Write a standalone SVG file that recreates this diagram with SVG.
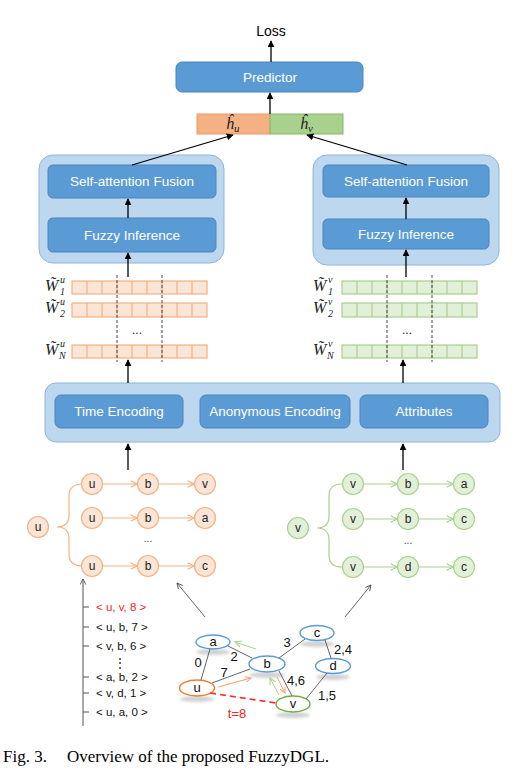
<svg xmlns="http://www.w3.org/2000/svg" width="518" height="774" viewBox="0 0 518 774">
<defs>
<marker id="ah" viewBox="0 0 10 10" refX="9" refY="5" markerWidth="7" markerHeight="7" markerUnits="userSpaceOnUse" orient="auto"><path d="M0,0 L10,5 L0,10 z" fill="#000"/></marker>
<marker id="ahg" viewBox="0 0 10 10" refX="9" refY="5" markerWidth="7" markerHeight="7" markerUnits="userSpaceOnUse" orient="auto"><path d="M1,1 L9,5 L1,9" fill="none" stroke="#555" stroke-width="1.3"/></marker>
<marker id="aho" viewBox="0 0 10 10" refX="9" refY="5" markerWidth="8" markerHeight="8" markerUnits="userSpaceOnUse" orient="auto"><path d="M1,1 L9,5 L1,9" fill="none" stroke="#F4B183" stroke-width="1.4"/></marker>
<marker id="ahgr" viewBox="0 0 10 10" refX="9" refY="5" markerWidth="8" markerHeight="8" markerUnits="userSpaceOnUse" orient="auto"><path d="M1,1 L9,5 L1,9" fill="none" stroke="#A9D18E" stroke-width="1.4"/></marker>
<marker id="ahor" viewBox="0 0 10 10" refX="9" refY="5" markerWidth="7" markerHeight="7" markerUnits="userSpaceOnUse" orient="auto"><path d="M1,1 L9,5 L1,9" fill="none" stroke="#F4A070" stroke-width="1.4"/></marker>
<filter id="sh" x="-50%" y="-50%" width="200%" height="200%"><feGaussianBlur stdDeviation="1.6"/></filter>
</defs>
<style>
text{font-family:"Liberation Sans",Arial,sans-serif}
.outer{fill:#BDD7EE;stroke:#8EB4DE;stroke-width:1}
.box{fill:#5B9BD5;stroke:#4A84BC;stroke-width:1}
.bt{fill:#fff;font-size:13.5px;text-anchor:middle}
.conn{stroke:#000;stroke-width:1.3;fill:none}
.oc{fill:#FBE5D6;stroke:#F4B183;stroke-width:1.2}
.gc{fill:#E2F0D9;stroke:#A9D18E;stroke-width:1.2}
.ol{stroke:#F4B183;stroke-width:1.2;fill:none}
.gl{stroke:#A9D18E;stroke-width:1.2;fill:none}
.nt{font-size:12px;text-anchor:middle;fill:#222}
.dash{stroke:#333;stroke-width:0.9;stroke-dasharray:3,2}
.wl{font-family:"Liberation Serif",serif;font-style:italic;fill:#222}
.ge{stroke:#555;stroke-width:0.9;fill:none}
.gn{fill:#fff;stroke-width:1.4}
.gt{font-size:13px;text-anchor:middle;fill:#111}
.lt{font-size:11.5px;fill:#111}
.shd{fill:#000;opacity:0.18;filter:url(#sh)}
</style>

<!-- Top -->
<g id="loss"><text x="271" y="36" font-size="14" text-anchor="middle" fill="#000">Loss</text></g>
<g id="predictor"><rect class="box" x="176" y="62" width="187" height="30" rx="6"/><text class="bt" x="270" y="82">Predictor</text></g>
<g id="hbar">
<rect x="197" y="114" width="73" height="20" fill="#F4B183" stroke="#ED9A64" stroke-width="1"/>
<rect x="270" y="114" width="73" height="20" fill="#A9D18E" stroke="#86B765" stroke-width="1"/>
<text class="wl" x="226" y="129" font-size="16">ĥ<tspan font-size="11" dy="3">u</tspan></text>
<text class="wl" x="300" y="129" font-size="16">ĥ<tspan font-size="11" dy="3">v</tspan></text>
</g>

<!-- Left block -->
<g id="left-block">
<rect class="outer" x="39" y="155" width="185" height="108" rx="14"/>
<rect class="box" x="48" y="165" width="168" height="33" rx="5"/>
<text class="bt" x="132" y="186">Self-attention Fusion</text>
<rect class="box" x="48" y="218" width="168" height="34" rx="5"/>
<text class="bt" x="132" y="240">Fuzzy Inference</text>
</g>
<g id="right-block">
<rect class="outer" x="313" y="155" width="186" height="110" rx="14"/>
<rect class="box" x="323" y="165" width="166" height="32" rx="5"/>
<text class="bt" x="406" y="186">Self-attention Fusion</text>
<rect class="box" x="323" y="219" width="166" height="30" rx="5"/>
<text class="bt" x="406" y="239">Fuzzy Inference</text>
</g>

<!-- W rows left -->
<g id="w-left">
<rect x="72" y="281" width="135" height="13" class="oc"/>
<rect x="72" y="303" width="135" height="14" class="oc"/>
<rect x="72" y="345" width="135" height="13" class="oc"/>
<path class="ol" d="M87,281V294M102,281V294M117,281V294M132,281V294M147,281V294M162,281V294M177,281V294M192,281V294 M87,303V317M102,303V317M117,303V317M132,303V317M147,303V317M162,303V317M177,303V317M192,303V317 M87,345V358M102,345V358M117,345V358M132,345V358M147,345V358M162,345V358M177,345V358M192,345V358"/>
<line class="dash" x1="117" y1="275" x2="117" y2="362"/>
<line class="dash" x1="162" y1="275" x2="162" y2="362"/>
<text x="137" y="334" font-size="12" text-anchor="middle" fill="#222">...</text>
<text class="wl" x="45" y="291" font-size="16">W̃</text><text class="wl" x="60" y="283" font-size="10">u</text><text class="wl" x="60" y="295" font-size="10">1</text>
<text class="wl" x="45" y="313" font-size="16">W̃</text><text class="wl" x="60" y="305" font-size="10">u</text><text class="wl" x="60" y="317" font-size="10">2</text>
<text class="wl" x="45" y="355" font-size="16">W̃</text><text class="wl" x="60" y="347" font-size="10">u</text><text class="wl" x="59" y="359" font-size="10">N</text>
</g>

<!-- W rows right -->
<g id="w-right">
<rect x="342" y="281" width="135" height="13" class="gc"/>
<rect x="342" y="303" width="135" height="14" class="gc"/>
<rect x="342" y="345" width="135" height="13" class="gc"/>
<path class="gl" d="M357,281V294M372,281V294M387,281V294M402,281V294M417,281V294M432,281V294M447,281V294M462,281V294 M357,303V317M372,303V317M387,303V317M402,303V317M417,303V317M432,303V317M447,303V317M462,303V317 M357,345V358M372,345V358M387,345V358M402,345V358M417,345V358M432,345V358M447,345V358M462,345V358"/>
<line class="dash" x1="387" y1="275" x2="387" y2="362"/>
<line class="dash" x1="432" y1="275" x2="432" y2="362"/>
<text x="407" y="334" font-size="12" text-anchor="middle" fill="#222">...</text>
<text class="wl" x="313" y="291" font-size="16">W̃</text><text class="wl" x="328" y="283" font-size="10">v</text><text class="wl" x="328" y="295" font-size="10">1</text>
<text class="wl" x="313" y="313" font-size="16">W̃</text><text class="wl" x="328" y="305" font-size="10">v</text><text class="wl" x="328" y="317" font-size="10">2</text>
<text class="wl" x="313" y="355" font-size="16">W̃</text><text class="wl" x="328" y="347" font-size="10">v</text><text class="wl" x="327" y="359" font-size="10">N</text>
</g>

<!-- Encoding -->
<g id="encoding">
<rect class="outer" x="45" y="383" width="455" height="59" rx="11"/>
<rect class="box" x="55" y="395" width="128" height="33" rx="6"/>
<text class="bt" x="119" y="416">Time Encoding</text>
<rect class="box" x="200" y="395" width="150" height="33" rx="6"/>
<text class="bt" x="275" y="416">Anonymous Encoding</text>
<rect class="box" x="360" y="395" width="128" height="33" rx="6"/>
<text class="bt" x="424" y="416">Attributes</text>
</g>

<!-- Left walks -->
<g id="walk-u">
<circle class="oc" cx="38" cy="527" r="10.5"/><text class="nt" x="38" y="531">u</text>
<path class="ol" d="M83,484 Q69,484 69,496 L69,515 Q69,527 57,527 Q69,527 69,539 L69,554 Q69,566 83,566"/>
<circle class="oc" cx="92" cy="484" r="10.5"/><text class="nt" x="92" y="488">u</text>
<circle class="oc" cx="148" cy="484" r="10.5"/><text class="nt" x="148" y="488">b</text>
<circle class="oc" cx="205" cy="484" r="10.5"/><text class="nt" x="205" y="488">v</text>
<circle class="oc" cx="92" cy="518" r="10.5"/><text class="nt" x="92" y="522">u</text>
<circle class="oc" cx="148" cy="518" r="10.5"/><text class="nt" x="148" y="522">b</text>
<circle class="oc" cx="205" cy="518" r="10.5"/><text class="nt" x="205" y="522">a</text>
<circle class="oc" cx="92" cy="566" r="10.5"/><text class="nt" x="92" y="570">u</text>
<circle class="oc" cx="148" cy="566" r="10.5"/><text class="nt" x="148" y="570">b</text>
<circle class="oc" cx="205" cy="566" r="10.5"/><text class="nt" x="205" y="570">c</text>
<text x="148" y="542" font-size="10" text-anchor="middle" fill="#333">...</text>
</g>
<g id="walk-v">
<circle class="gc" cx="298" cy="528" r="10.5"/><text class="nt" x="298" y="532">v</text>
<path class="gl" d="M342,484 Q329,484 329,496 L329,516 Q329,528 317,528 Q329,528 329,540 L329,555 Q329,567 342,567"/>
<circle class="gc" cx="353" cy="484" r="10.5"/><text class="nt" x="353" y="488">v</text>
<circle class="gc" cx="408" cy="484" r="10.5"/><text class="nt" x="408" y="488">b</text>
<circle class="gc" cx="464" cy="484" r="10.5"/><text class="nt" x="464" y="488">a</text>
<circle class="gc" cx="353" cy="519" r="10.5"/><text class="nt" x="353" y="523">v</text>
<circle class="gc" cx="408" cy="519" r="10.5"/><text class="nt" x="408" y="523">b</text>
<circle class="gc" cx="464" cy="519" r="10.5"/><text class="nt" x="464" y="523">c</text>
<circle class="gc" cx="353" cy="567" r="10.5"/><text class="nt" x="353" y="571">v</text>
<circle class="gc" cx="408" cy="567" r="10.5"/><text class="nt" x="408" y="571">d</text>
<circle class="gc" cx="464" cy="567" r="10.5"/><text class="nt" x="464" y="571">c</text>
<text x="408" y="544" font-size="10" text-anchor="middle" fill="#333">...</text>
</g>

<!-- Timeline list -->
<g id="timeline">
<line x1="83" y1="726" x2="83" y2="579" stroke="#555" stroke-width="1" marker-end="url(#ahg)"/>
<path d="M83,607H89M83,627H89M83,646H89M83,677H89M83,693H89M83,712H89" stroke="#555" stroke-width="1"/>
<text class="lt" x="96" y="611" style="fill:#FF2020">&lt; u, v,  8 &gt;</text>
<text class="lt" x="96" y="631">&lt; u, b, 7 &gt;</text>
<text class="lt" x="96" y="650">&lt; v, b,  6 &gt;</text>
<text class="lt" x="120" y="667" text-anchor="middle">⋮</text>
<text class="lt" x="96" y="681">&lt; a, b, 2 &gt;</text>
<text class="lt" x="96" y="697">&lt; v, d, 1 &gt;</text>
<text class="lt" x="96" y="716">&lt; u, a, 0 &gt;</text>
</g>

<!-- Graph nodes -->
<g id="node-a"><ellipse class="shd" cx="213" cy="652" rx="17" ry="3"/><ellipse class="gn" stroke="#5B9BD5" cx="213" cy="642" rx="17" ry="7"/><text class="gt" x="213" y="646">a</text></g>
<g id="node-b"><ellipse class="shd" cx="267" cy="675" rx="18" ry="3"/><ellipse class="gn" stroke="#5B9BD5" cx="267" cy="664" rx="18" ry="8"/><text class="gt" x="267" y="668">b</text></g>
<g id="node-c"><ellipse class="shd" cx="317" cy="644" rx="17" ry="3"/><ellipse class="gn" stroke="#5B9BD5" cx="317" cy="633" rx="17" ry="7.5"/><text class="gt" x="317" y="637">c</text></g>
<g id="node-d"><ellipse class="shd" cx="333" cy="677" rx="17" ry="3"/><ellipse class="gn" stroke="#5B9BD5" cx="333" cy="666" rx="17.5" ry="7.5"/><text class="gt" x="333" y="670">d</text></g>
<g id="node-u"><ellipse class="shd" cx="197" cy="699" rx="17" ry="3"/><ellipse class="gn" stroke="#ED7D31" cx="197" cy="688" rx="17.5" ry="8"/><text class="gt" x="197" y="692">u</text></g>
<g id="node-v"><ellipse class="shd" cx="293" cy="715" rx="17" ry="3"/><ellipse class="gn" stroke="#70AD47" cx="293" cy="704" rx="17" ry="8"/><text class="gt" x="293" y="708">v</text></g>

<!-- Connectors -->
<g id="connectors">
<line class="conn" x1="271" y1="62" x2="271" y2="41" marker-end="url(#ah)"/>
<line class="conn" x1="270" y1="114" x2="270" y2="93" marker-end="url(#ah)"/>
<line class="conn" x1="132" y1="165" x2="233" y2="135" marker-end="url(#ah)"/>
<line class="conn" x1="407" y1="165" x2="307" y2="135" marker-end="url(#ah)"/>
<line class="conn" x1="128" y1="218" x2="128" y2="199" marker-end="url(#ah)"/>
<line class="conn" x1="406" y1="219" x2="406" y2="198" marker-end="url(#ah)"/>
<line class="conn" x1="128" y1="277" x2="128" y2="253" marker-end="url(#ah)"/>
<line class="conn" x1="406" y1="277" x2="406" y2="250" marker-end="url(#ah)"/>
<line class="conn" x1="128" y1="383" x2="128" y2="360" marker-end="url(#ah)"/>
<line class="conn" x1="403" y1="383" x2="403" y2="360" marker-end="url(#ah)"/>
<line class="conn" x1="128" y1="470" x2="128" y2="444" marker-end="url(#ah)"/>
<line class="conn" x1="403" y1="470" x2="403" y2="444" marker-end="url(#ah)"/>
<g marker-end="url(#aho)" class="ol">
<line x1="103" y1="484" x2="137" y2="484"/><line x1="159" y1="484" x2="194" y2="484"/>
<line x1="103" y1="518" x2="137" y2="518"/><line x1="159" y1="518" x2="194" y2="518"/>
<line x1="103" y1="566" x2="137" y2="566"/><line x1="159" y1="566" x2="194" y2="566"/>
</g>
<g marker-end="url(#ahgr)" class="gl">
<line x1="364" y1="484" x2="397" y2="484"/><line x1="419" y1="484" x2="453" y2="484"/>
<line x1="364" y1="519" x2="397" y2="519"/><line x1="419" y1="519" x2="453" y2="519"/>
<line x1="364" y1="567" x2="397" y2="567"/><line x1="419" y1="567" x2="453" y2="567"/>
</g>
<line class="ge" x1="205" y1="617" x2="177" y2="583" marker-end="url(#ahg)"/>
<line class="ge" x1="345" y1="617" x2="371" y2="585" marker-end="url(#ahg)"/>
<line class="ge" x1="201" y1="680" x2="210" y2="649"/>
<line class="ge" x1="228" y1="646" x2="252" y2="658"/>
<line class="ge" x1="212" y1="683" x2="250" y2="669"/>
<line class="ge" x1="279" y1="658" x2="305" y2="639"/>
<line class="ge" x1="325" y1="640" x2="331" y2="658"/>
<line class="ge" x1="279" y1="671" x2="292" y2="696"/>
<line class="ge" x1="327" y1="673" x2="306" y2="699"/>
<line x1="210" y1="693" x2="276" y2="703" stroke="#FF2A2A" stroke-width="1.6" stroke-dasharray="6,4"/>
<line x1="256" y1="649" x2="235" y2="642" stroke="#A9D18E" stroke-width="1" marker-end="url(#ahgr)"/>
<line x1="218" y1="687" x2="251" y2="678" stroke="#F4A070" stroke-width="1" marker-end="url(#ahor)"/>
<line x1="277" y1="677" x2="285" y2="693" stroke="#F4A070" stroke-width="1" marker-end="url(#ahor)"/>
<line x1="279" y1="695" x2="270" y2="678" stroke="#A9D18E" stroke-width="1" marker-end="url(#ahgr)"/>
</g>
<g id="edge-labels">
<text class="gt" x="198" y="667">0</text>
<text class="gt" x="234" y="661">2</text>
<text class="gt" x="224" y="677">7</text>
<text class="gt" x="287" y="647">3</text>
<text class="gt" x="343" y="654">2,4</text>
<text class="gt" x="296" y="685">4,6</text>
<text class="gt" x="327" y="700">1,5</text>
<text class="gt" x="237" y="718" style="fill:#FF2020">t=8</text>
</g>

<!-- Caption -->
<text x="3" y="762" font-size="17" fill="#000" style="font-family:'Liberation Serif',serif">Fig. 3.</text>
<text x="67" y="762" font-size="17" fill="#000" style="font-family:'Liberation Serif',serif">Overview of the proposed FuzzyDGL.</text>
</svg>
